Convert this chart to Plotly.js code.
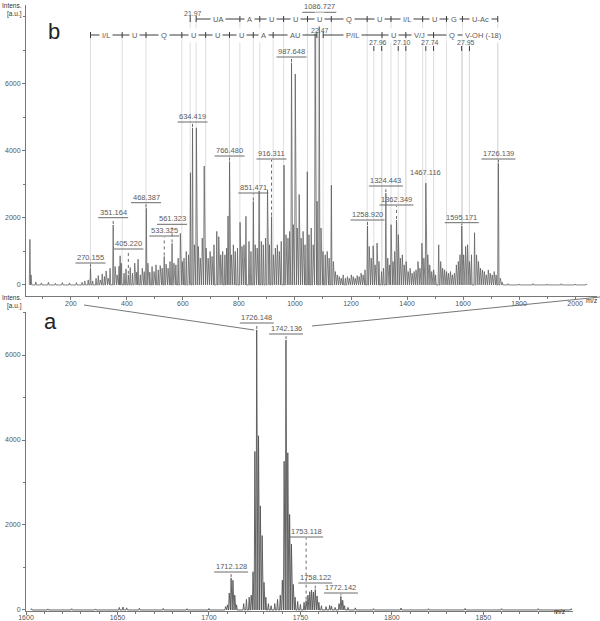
<!DOCTYPE html>
<html><head><meta charset="utf-8">
<script src="https://cdn.plot.ly/plotly-3.0.1.min.js"></script>
<style>html,body{margin:0;padding:0;background:#fff}#chart{width:600px;height:621px}</style>
</head><body><div id="chart"></div>
<script>
// ---------- DATA: panel b (MS/MS spectrum) ----------
const topMz = [
 54,58,75,95,120,145,170,195,220,240,
 250,262,270.2,278,290,298,305,312,320,326,
 333,340,351.2,358,365,372,376,380,390,397,
 405.2,412,420,428,435,440,448,455,462,469.4,
 475,482,490,497,504,512,519,526,533.3,540,
 547,554,561.3,568,575,583,591,598,604,612,
 620,627,634.4,641,648,655,662,669,676,683,
 690,697,704,711,721,728,735,742,750,756,
 761,766.5,773,780,787,795,804,811,818,825,
 836,843,851.5,858,865,872,880,887,895,902,
 909,916.3,923,930,937,944,951,961,968,975,
 981,987.6,994,1001,1008,1015,1022,1029,1036,1044,
 1050,1058,1065,1072,1079,1086.7,1093,1100,1108,1115,
 1122,1130,1137,1144,1151,1158,1165,1172,1180,1187,
 1194,1201,1208,1215,1222,1229,1236,1243,1250,1258.9,
 1265,1272,1279,1286,1293,1300,1309,1316,1324.4,1331,
 1338,1343,1350,1356,1362.3,1369,1376,1383,1390,1397,
 1404,1411,1418,1425,1432,1439,1446,1453,1460,1467.1,
 1474,1481,1488,1495,1502,1513,1520,1527,1534,1541,
 1548,1555,1562,1569,1576,1583,1589,1595.2,1602,1609,
 1616,1623,1630,1641,1648,1655,1662,1669,1676,1683,
 1690,1697,1704,1711,1718,1726.1,1733,1740,1760,1800,
 1850,1900,1950,2000,2040];
const topInt = [
 1360,300,90,60,80,50,70,60,70,80,
 120,150,500,120,200,280,150,330,250,420,
 200,500,1790,550,300,560,870,650,350,480,
 300,520,350,650,380,770,300,500,400,2290,
 650,380,550,400,600,450,580,500,850,620,
 500,700,1240,650,600,800,1540,700,800,1000,
 900,3350,4690,1200,4690,1150,800,1400,3550,1100,
 800,1000,850,1200,1600,1440,900,1000,900,1100,
 2060,3680,900,1200,1000,1100,1870,1150,1200,2050,
 1300,1000,2490,1200,1100,2810,1300,1200,1400,2840,
 1200,2040,900,1100,1200,1000,1300,3580,1500,1400,
 1600,6630,1800,6300,1700,2700,1400,1600,1200,3380,
 1500,1700,1200,7500,2500,8100,1700,1000,900,1000,
 800,2980,700,400,300,250,200,300,200,250,
 200,300,250,200,280,250,350,300,450,1760,
 1150,800,1170,600,1250,700,400,500,2740,800,
 600,1800,700,1000,1940,1500,800,900,600,700,
 400,500,350,400,450,700,500,1250,800,3040,
 900,600,400,450,300,1200,700,500,450,400,
 350,400,300,350,600,700,900,1760,900,1150,
 1200,700,900,1560,900,700,500,450,400,300,
 450,350,300,400,300,3630,200,80,40,30,
 40,30,35,30,30];
const topLabels = ['270.155','351.164','405.220','468.387','533.325','561.323','634.419','766.480',
 '851.471','916.311','987.648','1086.727','1258.920','1324.443','1362.349','1467.116','1595.171','1726.139'];
const intensTicks = [0, 2000, 4000, 6000];

// sequence ladders (m/z of fragment junctions) and residue labels
const row1Mz  = [647.3, 803.4, 874.4, 959.5, 1044.6, 1129.6, 1257.7, 1342.7, 1455.8, 1540.8, 1597.8, 1723.8];
const row1Lab = ['UA','A','U','U','U','Q','U','I/L','U','G','U-Ac'];
const row2aMz  = [270.2, 383.2, 468.2, 596.2, 681.2, 766.2, 851.2, 922.2, 1078.2];
const row2aLab = ['I/L','U','Q','U','U','U','A','AU'];
const row2bMz  = [1100.7, 1310.7, 1395.7, 1494.7, 1622.7, 1723.8];
const row2bLab = ['P/IL','U','V/J','Q','V-OH (-18)'];
const gapA = {lo: 626.0, hi: 647.3, text: '21.97'};
const gapB = {lo: 1078.2, hi: 1100.7, text: '22.47'};
const pairLo  = [1281.5, 1368.6, 1467.0, 1594.8];
const pairHi  = [1309.5, 1395.7, 1494.7, 1622.7];
const pairLab = ['27.96','27.10','27.74','27.95'];

// ---------- DATA: panel a (MS spectrum zoom) ----------
const botMz = [
 1603,1612,1625,1638,1651,1653,1655,1662,1675,1688,1700,
 1709.1,1710.1,1711.1,1712.1,1713.1,1714.1,1715.1,
 1719,1720.5,1722,1723.1,1724.1,1725.1,1726.1,1727.1,1728.1,1729.1,1730.1,1731.1,1732.5,1734,
 1736,1737.5,1739,1740.1,1741.1,1742.1,1743.1,1744.1,1745.1,1746.1,1747.1,1748.5,1750,
 1752,1753.1,1754.1,1755.1,1756.1,1757.1,1758.1,1759.1,1760.1,1761.5,
 1764,1766,1767,1769,1771.1,1772.1,1773.1,1774.1,1776,1780,1790,1805,1820,1840,1860,1880,1898];
const botInt = [
 30,25,30,25,60,70,50,40,35,30,35,
 80,120,400,750,700,350,120,
 150,250,300,350,900,3730,6590,4100,2450,1750,650,300,150,100,
 150,250,350,700,3500,6350,3700,2250,1550,600,300,200,130,
 180,220,350,430,470,420,480,330,180,100,
 80,110,90,60,150,320,230,100,60,50,30,45,30,35,30,30,30];
const botLabels = ['1712.128','1726.148','1742.136','1753.118','1758.122','1772.142'];

// ---------- LAYOUT GEOMETRY (pixels of the 600x621 figure) ----------
const W = 600, H = 621;
const FONT = 'Arial, "Liberation Sans", sans-serif';
const topPx = {l: 26, r: 597, t: 5, b: 296};
const botPx = {l: 26, r: 573, t: 312, b: 611};
const topXRange = [40, 2078], topYRange = [-330, 8358];
const botXRange = [1600, 1899], botYRange = [-24, 7012];
const topPerPx = (topYRange[1]-topYRange[0])/(topPx.b-topPx.t);
const botPerPx = (botYRange[1]-botYRange[0])/(botPx.b-botPx.t);
const topY = px => topYRange[1] - (px - topPx.t)*topPerPx;
const botY = px => botYRange[1] - (px - botPx.t)*botPerPx;
// label underline levels (figure pixel rows)
const topLabelRow = [263, 217.7, 249, 202.7, 236, 224.3, 122, 156, 193, 159, 57, 12.3, 220, 186, 205, 178, 222.7, 159];
const botLabelRow = [572, 323, 334, 537, 583, 593];
const noUnderline = ['1467.116'];

function profile(mz, inten, hw) {
  const x = [], y = [];
  for (let i = 0; i < mz.length; i++) { x.push(mz[i]-hw, mz[i], mz[i]+hw); y.push(0, inten[i], 0); }
  return {x, y};
}
function nearest(mzArr, intArr, v) {
  let b = 0;
  for (let i = 1; i < mzArr.length; i++) if (Math.abs(mzArr[i]-v) < Math.abs(mzArr[b]-v)) b = i;
  return intArr[b];
}

const pTop = profile(topMz, topInt, 2.2);
const pBot = profile(botMz, botInt, 0.38);
const traces = [
  {x: pTop.x, y: pTop.y, xaxis: 'x', yaxis: 'y', mode: 'lines', line: {color: '#5c5c5c', width: 0.75}, hoverinfo: 'skip'},
  {x: pBot.x, y: pBot.y, xaxis: 'x2', yaxis: 'y2', mode: 'lines', line: {color: '#555555', width: 0.9}, hoverinfo: 'skip'}
];

const shapes = [], annotations = [];
const ladderColor = '#3c3c3c', labelColor = '#5a5a5a';

// faint guide lines from ladder junctions down to baseline
function guide(mz, fromPx) {
  shapes.push({type: 'line', xref: 'x', yref: 'y', x0: mz, x1: mz, y0: 0, y1: topY(fromPx),
    line: {color: '#dedede', width: 1}, layer: 'below'});
}
row1Mz.forEach(m => guide(m, 19));
row2aMz.forEach(m => guide(m, 35));
row2bMz.forEach(m => guide(m, 35));
guide(gapA.lo, 19);
pairLo.forEach(m => guide(m, 51));
pairHi.forEach(m => guide(m, 51));

function ladder(mzs, labs, rowPx) {
  const y = topY(rowPx);
  for (let i = 0; i < mzs.length; i++) {
    shapes.push({type: 'line', xref: 'x', yref: 'y', ysizemode: 'pixel', yanchor: y, x0: mzs[i], x1: mzs[i], y0: -3, y1: 3,
      line: {color: ladderColor, width: 1}});
    if (i < mzs.length - 1) {
      shapes.push({type: 'line', xref: 'x', yref: 'y', x0: mzs[i], x1: mzs[i+1], y0: y, y1: y, line: {color: ladderColor, width: 1}});
      annotations.push({xref: 'x', yref: 'y', x: (mzs[i]+mzs[i+1])/2, y: y, text: labs[i], showarrow: false,
        bgcolor: '#ffffff', borderpad: 2, font: {family: FONT, size: 7.5, color: labelColor}});
    }
  }
}
ladder(row1Mz, row1Lab, 19);
ladder(row2aMz, row2aLab, 35);
ladder(row2bMz, row2bLab, 35);
// single tick + gap labels
shapes.push({type: 'line', xref: 'x', yref: 'y', ysizemode: 'pixel', yanchor: topY(19), x0: gapA.lo, x1: gapA.lo, y0: -3, y1: 3, line: {color: ladderColor, width: 1}});
annotations.push({xref: 'x', yref: 'y', x: (gapA.lo+gapA.hi)/2, y: topY(13), text: gapA.text, showarrow: false, font: {family: FONT, size: 7, color: labelColor}});
annotations.push({xref: 'x', yref: 'y', x: (gapB.lo+gapB.hi)/2, y: topY(30.5), text: gapB.text, showarrow: false, font: {family: FONT, size: 7, color: labelColor}});
// pair ticks
for (let i = 0; i < pairLo.length; i++) {
  [pairLo[i], pairHi[i]].forEach(m => shapes.push({type: 'line', xref: 'x', yref: 'y', x0: m, x1: m, y0: topY(51), y1: topY(46), line: {color: ladderColor, width: 1}}));
  annotations.push({xref: 'x', yref: 'y', x: (pairLo[i]+pairHi[i])/2, y: topY(42.5), text: pairLab[i], showarrow: false, font: {family: FONT, size: 7, color: labelColor}});
}

// peak labels
function peakLabels(labels, rows, mzArr, intArr, xr, yr, toY, perPx) {
  labels.forEach((t, i) => {
    const m = parseFloat(t);
    const lvl = toY(rows[i]);
    const top = nearest(mzArr, intArr, m);
    const hw = t.length * 2 + 1;
    annotations.push({xref: xr, yref: yr, x: m, y: lvl, yanchor: 'bottom', text: t, showarrow: false, borderpad: 0,
      font: {family: FONT, size: 7.5, color: labelColor}});
    if (noUnderline.indexOf(t) < 0) {
      shapes.push({type: 'line', xref: xr, yref: yr, xsizemode: 'pixel', xanchor: m, x0: -hw, x1: hw, y0: lvl, y1: lvl,
        line: {color: '#6a6a6a', width: 1}});
      if (lvl - top > 2*perPx) {
        shapes.push({type: 'line', xref: xr, yref: yr, x0: m, x1: m, y0: top + perPx, y1: lvl - perPx,
          line: {color: '#6a6a6a', width: 1, dash: 'dot'}});
      }
    }
  });
}
peakLabels(topLabels, topLabelRow, topMz, topInt, 'x', 'y', topY, topPerPx);
peakLabels(botLabels, botLabelRow, botMz, botInt, 'x2', 'y2', botY, botPerPx);

// zoom connector lines
shapes.push({type: 'line', xref: 'paper', yref: 'paper', x0: 84/W, y0: 1-305/H, x1: 254/W, y1: 1-330/H, line: {color: '#777', width: 1}});
shapes.push({type: 'line', xref: 'paper', yref: 'paper', x0: 312/W, y0: 1-326/H, x1: 600/W, y1: 1-297/H, line: {color: '#777', width: 1}});

// panel letters and axis captions
const pa = (x, y, text, size, extra) => annotations.push(Object.assign({xref: 'paper', yref: 'paper', x: x/W, y: 1-y/H, text: text,
  showarrow: false, font: {family: FONT, size: size, color: '#333'}}, extra || {}));
pa(46, 17, 'b', 22, {font: {family: FONT, size: 22, color: '#222'}});
pa(42, 321, 'a', 22, {font: {family: FONT, size: 22, color: '#222'}});
pa(23, 1, 'Intens.<br>[a.u.]', 6.5, {xanchor: 'right', yanchor: 'top', align: 'right', borderpad: 0});
pa(23, 293, 'Intens.<br>[a.u.]', 6.5, {xanchor: 'right', yanchor: 'top', align: 'right', borderpad: 0});
pa(599, 301, 'm/z', 7, {xanchor: 'right', borderpad: 0});
pa(567, 616, 'm/z', 7, {borderpad: 0});

const axisCommon = {showline: true, linecolor: '#777', linewidth: 1, ticks: 'outside', ticklen: 3, tickcolor: '#777',
  tickfont: {family: FONT, size: 7, color: '#555'}, showgrid: false, zeroline: false, fixedrange: true};
const layout = {
  width: W, height: H, margin: {l: 0, r: 0, t: 0, b: 0}, paper_bgcolor: '#fff', plot_bgcolor: '#fff', showlegend: false,
  font: {family: FONT},
  xaxis: Object.assign({}, axisCommon, {domain: [topPx.l/W, topPx.r/W], range: topXRange, anchor: 'y', tick0: 0, dtick: 200,
    ticklabelstandoff: -2, minor: {dtick: 100, tick0: 0, ticks: 'outside', ticklen: 2, tickcolor: '#777'}}),
  yaxis: Object.assign({}, axisCommon, {domain: [1-topPx.b/H, 1-topPx.t/H], range: topYRange, anchor: 'x',
    tickmode: 'array', tickvals: intensTicks,
    minor: {dtick: 1000, tick0: 0, ticks: 'outside', ticklen: 2, tickcolor: '#777'}}),
  xaxis2: Object.assign({}, axisCommon, {domain: [botPx.l/W, botPx.r/W], range: botXRange, anchor: 'y2', tick0: 1600, dtick: 50,
    ticklabelstandoff: -3, minor: {dtick: 10, tick0: 1600, ticks: 'outside', ticklen: 2, tickcolor: '#777'}}),
  yaxis2: Object.assign({}, axisCommon, {domain: [1-botPx.b/H, 1-botPx.t/H], range: botYRange, anchor: 'x2',
    tickmode: 'array', tickvals: intensTicks,
    minor: {dtick: 1000, tick0: 0, ticks: 'outside', ticklen: 2, tickcolor: '#777'}}),
  shapes: shapes, annotations: annotations
};
Plotly.newPlot('chart', traces, layout, {displayModeBar: false, staticPlot: true});
</script>
</body></html>
